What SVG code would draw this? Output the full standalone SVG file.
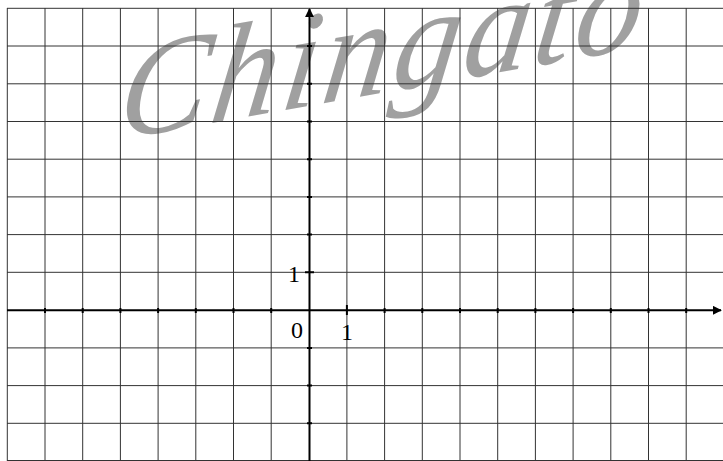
<svg xmlns="http://www.w3.org/2000/svg" width="723" height="461" viewBox="0 0 723 461">
<style>
.grid{stroke:#333;stroke-width:1;fill:none}
.axis{stroke:#000;stroke-width:2;fill:none}
.tick{stroke:#000;stroke-width:2}
.lbl{font-family:"Liberation Serif","DejaVu Serif",serif;font-size:24px;fill:#000;text-anchor:middle}
.wm{font-family:"Liberation Serif","DejaVu Serif",serif;font-style:italic;font-size:135px;fill:#888;fill-opacity:0.8}
</style>
<defs>
<marker id="arr" viewBox="0 0 10 10" refX="9" refY="5" markerWidth="4.5" markerHeight="4.5" orient="auto" markerUnits="strokeWidth">
<path d="M0,0 L10,5 L0,10 z" fill="#000"/>
</marker>
</defs>
<rect width="723" height="461" fill="#fff"/>
<g id="watermark">
<text class="wm" transform="translate(115,140) rotate(-10) skewX(-18)" letter-spacing="4">Chingato</text>
</g>
<g id="grid" class="grid">
<path d="M7.3,8 V461 M45,8 V461 M82.7,8 V461 M120.4,8 V461 M158.1,8 V461 M195.8,8 V461 M233.5,8 V461 M271.2,8 V461 M346.9,8 V461 M384.6,8 V461 M422.3,8 V461 M460,8 V461 M497.7,8 V461 M535.4,8 V461 M573.1,8 V461 M610.8,8 V461 M648.5,8 V461 M686.2,8 V461"/>
<path d="M7,8.3 H723 M7,46 H723 M7,83.8 H723 M7,121.5 H723 M7,159.2 H723 M7,196.9 H723 M7,234.6 H723 M7,272.3 H723 M7,347.9 H723 M7,385.6 H723 M7,423.3 H723 M7,460.5 H723"/>
</g>
<g id="axes">
<line class="axis" x1="7" y1="310.3" x2="721" y2="310.3" marker-end="url(#arr)"/>
<line class="axis" x1="309.5" y1="461" x2="309.5" y2="9" marker-end="url(#arr)"/>
<path class="tick" d="M45,308 V313 M82.7,308 V313 M120.4,308 V313 M158.1,308 V313 M195.8,308 V313 M233.5,308 V313 M271.2,308 V313 M346.9,305 V315 M384.6,308 V313 M422.3,308 V313 M460,308 V313 M497.7,308 V313 M535.4,308 V313 M573.1,308 V313 M610.8,308 V313 M648.5,308 V313 M686.2,308 V313"/>
<path class="tick" d="M307,46 H312 M307,83.8 H312 M307,121.5 H312 M307,159.2 H312 M307,196.9 H312 M307,234.6 H312 M305,272.3 H314 M307,347.9 H312 M307,385.6 H312 M307,423.3 H312"/>
</g>
<g id="labels">
<text class="lbl" x="294" y="282">1</text>
<text class="lbl" x="297" y="338">0</text>
<text class="lbl" x="347" y="340">1</text>
</g>
</svg>
